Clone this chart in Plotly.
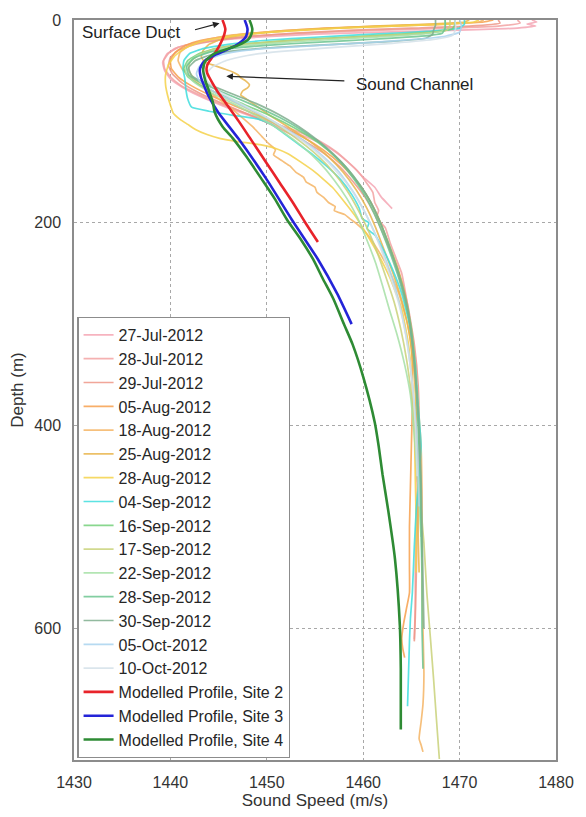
import plotly.graph_objects as go

# Measured CTD sound-speed profiles: depth (m) and sound speed (m/s)
depth_27jul = [0, 2, 4, 6, 8, 10, 12, 14, 17, 20, 24, 28, 34, 42, 50, 58, 66, 75, 85, 95, 105, 115, 125, 135, 145, 155, 165, 175, 182, 186]
speed_27jul = [1477.5, 1478.0, 1477.0, 1477.9, 1476.0, 1470.0, 1462.0, 1455.0, 1449.0, 1445.0, 1442.0, 1440.5, 1439.6, 1439.2, 1439.4, 1440.0, 1441.2, 1443.0, 1445.5, 1448.4, 1451.2, 1454.0, 1456.3, 1457.8, 1459.0, 1460.0, 1461.2, 1461.9, 1462.6, 1463.0]

depth_28jul = [0, 3, 6, 8, 10, 12, 15, 18, 22, 27, 33, 40, 48, 56, 64, 72, 82, 92, 100, 110, 120, 130, 140, 150, 160, 170, 180, 188, 195, 205, 220, 235, 250, 270, 300, 340, 380, 420, 460, 500, 540, 580, 611]
speed_28jul = [1476.0, 1476.3, 1474.0, 1469.0, 1462.0, 1456.0, 1450.0, 1446.0, 1442.8, 1440.8, 1439.8, 1439.3, 1439.4, 1440.0, 1441.0, 1442.6, 1445.0, 1447.8, 1450.2, 1453.2, 1455.6, 1457.2, 1458.4, 1459.5, 1460.3, 1461.0, 1461.2, 1461.6, 1461.4, 1462.3, 1462.8, 1463.4, 1464.0, 1464.4, 1464.9, 1465.4, 1465.6, 1465.4, 1465.6, 1465.5, 1465.4, 1465.4, 1465.3]

depth_29jul = [0, 3, 6, 8, 10, 13, 16, 20, 25, 30, 37, 45, 53, 62, 72, 84, 96, 108, 120, 132, 145, 160, 175, 190, 205, 225, 250, 280, 320, 360, 400, 450, 500, 550, 590, 613]
speed_29jul = [1474.0, 1474.2, 1471.0, 1465.0, 1459.0, 1453.0, 1448.5, 1445.0, 1442.2, 1440.8, 1440.0, 1439.8, 1440.2, 1441.2, 1443.0, 1445.8, 1448.8, 1451.5, 1454.0, 1456.0, 1457.6, 1459.0, 1460.2, 1461.1, 1461.8, 1462.7, 1463.7, 1464.6, 1465.3, 1465.7, 1465.8, 1465.7, 1465.6, 1465.5, 1465.4, 1465.3]

depth_05aug = [0, 2, 4, 6, 8, 11, 14, 17, 20, 25, 32, 40, 48, 56, 65, 75, 86, 98, 110, 122, 135, 150, 165, 180, 200, 220, 245, 270, 300, 340, 380, 420, 460, 500, 540, 565, 580, 595, 610, 620, 629]
speed_05aug = [1473.5, 1472.5, 1468.0, 1462.0, 1456.0, 1451.0, 1447.5, 1445.0, 1443.2, 1441.6, 1440.5, 1440.0, 1440.1, 1440.8, 1442.2, 1444.3, 1447.0, 1450.0, 1452.6, 1454.9, 1456.8, 1458.5, 1459.8, 1460.8, 1461.8, 1462.6, 1463.6, 1464.3, 1464.8, 1465.1, 1465.1, 1465.0, 1464.9, 1464.8, 1464.8, 1464.8, 1464.5, 1464.2, 1464.0, 1464.1, 1464.3]

depth_18aug = [0, 2, 4, 6, 8, 10, 13, 16, 20, 25, 32, 40, 48, 56, 65, 75, 85, 95, 105, 115, 122, 128, 133, 139, 144, 150, 155, 160, 165, 170, 175, 180, 184, 188, 192, 196, 200, 210, 225, 245, 270, 300, 340, 380, 420, 470, 520, 560, 600, 645, 675, 693, 709, 715, 722]
speed_18aug = [1472.5, 1472.0, 1469.0, 1463.0, 1457.0, 1452.5, 1448.5, 1445.5, 1443.5, 1442.0, 1441.0, 1440.8, 1441.2, 1442.0, 1443.2, 1444.6, 1446.0, 1447.3, 1448.5, 1449.5, 1450.2, 1450.9, 1450.7, 1451.6, 1452.4, 1453.0, 1453.8, 1454.1, 1455.0, 1455.2, 1455.9, 1456.4, 1457.1, 1457.0, 1458.1, 1458.6, 1459.2, 1460.3, 1461.4, 1462.6, 1463.7, 1464.6, 1465.3, 1465.7, 1466.0, 1466.1, 1466.1, 1466.1, 1466.2, 1466.3, 1466.2, 1466.0, 1465.8, 1466.0, 1466.2]

depth_25aug = [0, 2, 4, 6, 9, 12, 15, 19, 24, 30, 36, 41, 45, 48, 51, 54, 57, 60, 64, 67, 70, 74, 78, 84, 94, 106, 120, 135, 150, 168, 186, 205, 225, 250, 280, 310, 350, 390, 430, 470, 510, 545]
speed_25aug = [1471.0, 1470.5, 1467.0, 1461.0, 1455.0, 1450.5, 1447.5, 1445.3, 1444.0, 1443.4, 1443.2, 1443.5, 1444.6, 1445.5, 1446.4, 1447.0, 1447.3, 1447.8, 1448.2, 1448.0, 1447.5, 1447.3, 1447.9, 1448.8, 1450.3, 1452.3, 1454.5, 1456.4, 1457.9, 1459.3, 1460.4, 1461.3, 1462.1, 1463.1, 1464.1, 1464.8, 1465.3, 1465.5, 1465.6, 1465.7, 1465.7, 1465.8]

depth_28aug = [0, 2, 4, 6, 8, 11, 14, 18, 22, 28, 35, 44, 54, 64, 74, 84, 92, 98, 103, 108, 113, 117, 120, 123, 127, 132, 140, 150, 165, 180, 195, 212, 232, 255, 285, 320, 360, 400, 450, 500, 545]
speed_28aug = [1472.0, 1471.5, 1468.5, 1463.0, 1457.5, 1452.0, 1448.0, 1445.0, 1443.0, 1441.5, 1440.5, 1439.8, 1439.5, 1439.5, 1439.7, 1440.0, 1440.3, 1441.0, 1441.8, 1442.6, 1443.8, 1445.2, 1447.0, 1449.3, 1451.0, 1452.2, 1453.5, 1455.0, 1456.8, 1458.1, 1459.3, 1460.4, 1461.6, 1462.8, 1464.0, 1464.7, 1465.1, 1465.3, 1465.4, 1465.5, 1465.5]

depth_04sep = [0, 4, 8, 11, 14, 17, 20, 24, 28, 33, 40, 48, 58, 68, 78, 86, 90, 94, 98, 103, 112, 122, 133, 145, 158, 172, 186, 196, 200, 206, 212, 225, 245, 270, 300, 340, 380, 420, 450, 484, 520, 565, 590, 613, 645, 677]
speed_04sep = [1470.5, 1470.5, 1470.0, 1467.0, 1461.0, 1455.0, 1450.0, 1446.0, 1443.5, 1442.0, 1441.4, 1441.3, 1441.5, 1441.6, 1441.8, 1442.2, 1444.0, 1446.5, 1449.2, 1450.5, 1451.8, 1453.2, 1454.8, 1456.3, 1457.7, 1458.8, 1459.6, 1459.9, 1460.6, 1460.4, 1461.2, 1462.0, 1463.0, 1464.0, 1464.8, 1465.4, 1465.7, 1466.0, 1465.8, 1465.5, 1465.3, 1465.1, 1464.9, 1464.8, 1464.7, 1464.6]

depth_16sep = [0, 5, 9, 12, 15, 18, 21, 24, 28, 33, 40, 48, 56, 64, 72, 82, 92, 103, 115, 128, 142, 157, 172, 188, 205, 225, 250, 275, 305, 345, 390, 440, 490, 530]
speed_16sep = [1469.5, 1469.5, 1469.2, 1467.0, 1462.0, 1456.0, 1451.0, 1447.5, 1444.8, 1443.0, 1441.8, 1441.4, 1441.8, 1443.0, 1444.8, 1447.3, 1449.8, 1452.2, 1454.4, 1456.3, 1457.9, 1459.2, 1460.3, 1461.2, 1462.0, 1462.8, 1463.7, 1464.4, 1465.0, 1465.4, 1465.7, 1465.9, 1466.0, 1466.1]

depth_17sep = [0, 5, 10, 13, 16, 19, 22, 25, 29, 34, 42, 50, 58, 68, 80, 92, 105, 120, 135, 150, 168, 186, 205, 228, 252, 278, 305, 335, 370, 410, 460, 516, 565, 613, 650, 690, 729]
speed_17sep = [1469.0, 1469.0, 1468.7, 1466.5, 1461.0, 1455.0, 1450.0, 1446.8, 1444.5, 1443.0, 1442.0, 1441.9, 1442.5, 1444.0, 1446.4, 1448.9, 1451.3, 1453.5, 1455.4, 1456.9, 1458.3, 1459.4, 1460.4, 1461.4, 1462.3, 1463.2, 1463.9, 1464.5, 1465.0, 1465.4, 1465.8, 1466.3, 1466.6, 1467.0, 1467.3, 1467.6, 1467.9]

depth_22sep = [0, 6, 11, 14, 17, 20, 23, 26, 30, 36, 44, 52, 60, 70, 82, 95, 110, 125, 140, 158, 176, 195, 215, 240, 262, 285, 310, 340, 370, 410, 460, 510]
speed_22sep = [1468.5, 1468.5, 1468.2, 1466.0, 1461.0, 1455.5, 1450.5, 1447.0, 1444.5, 1442.6, 1441.7, 1441.6, 1442.3, 1443.9, 1446.4, 1449.0, 1451.6, 1453.7, 1455.4, 1457.0, 1458.3, 1459.4, 1460.3, 1461.3, 1462.0, 1462.7, 1463.5, 1464.3, 1464.9, 1465.3, 1465.7, 1466.0]

depth_28sep = [0, 8, 13, 16, 19, 22, 25, 28, 32, 38, 46, 54, 62, 72, 84, 96, 108, 122, 138, 155, 172, 190, 210, 230, 255, 280, 310, 350, 400, 450, 500, 550, 600, 640]
speed_28sep = [1468.5, 1468.5, 1468.2, 1466.0, 1461.0, 1455.0, 1450.0, 1446.5, 1444.0, 1442.4, 1441.7, 1441.9, 1443.2, 1445.6, 1448.6, 1451.3, 1453.5, 1455.6, 1457.4, 1458.9, 1460.1, 1461.1, 1462.0, 1462.8, 1463.7, 1464.4, 1465.0, 1465.4, 1465.7, 1465.9, 1466.0, 1466.1, 1466.1, 1466.2]

depth_30sep = [0, 5, 10, 14, 18, 21, 24, 27, 30, 34, 40, 47, 55, 63, 72, 82, 93, 105, 118, 132, 147, 163, 180, 198, 218, 240, 265, 290, 320, 360, 400, 450, 500, 550, 600]
speed_30sep = [1467.5, 1467.5, 1467.3, 1467.2, 1466.5, 1463.0, 1457.0, 1451.0, 1447.0, 1444.3, 1442.6, 1441.9, 1442.2, 1443.8, 1446.2, 1448.8, 1451.2, 1453.3, 1455.2, 1456.9, 1458.4, 1459.7, 1460.8, 1461.7, 1462.5, 1463.3, 1464.1, 1464.7, 1465.1, 1465.5, 1465.8, 1466.0, 1466.1, 1466.2, 1466.3]

depth_05oct = [0, 6, 12, 16, 19, 22, 25, 28, 31, 35, 40, 46, 53, 60, 70, 80, 92, 105, 120, 135, 150, 170, 190, 210, 235, 260, 290, 320, 360, 400, 440, 480]
speed_05oct = [1470.0, 1470.2, 1470.0, 1468.5, 1465.5, 1461.0, 1455.5, 1450.0, 1447.0, 1445.0, 1443.8, 1443.0, 1442.7, 1443.0, 1444.4, 1446.5, 1449.1, 1451.6, 1454.0, 1455.9, 1457.5, 1459.0, 1460.2, 1461.2, 1462.3, 1463.2, 1464.0, 1464.6, 1465.1, 1465.5, 1465.7, 1465.8]

depth_10oct = [0, 8, 15, 19, 23, 27, 31, 35, 40, 46, 53, 60, 70, 82, 95, 110, 125, 140, 160, 180, 200, 225, 250, 280, 310, 350, 400, 450]
speed_10oct = [1469.5, 1469.6, 1469.3, 1467.5, 1463.0, 1457.0, 1451.5, 1448.0, 1445.8, 1444.4, 1443.7, 1443.8, 1445.0, 1447.2, 1449.8, 1452.3, 1454.5, 1456.3, 1458.2, 1459.6, 1460.7, 1461.8, 1462.7, 1463.7, 1464.4, 1465.0, 1465.4, 1465.6]

# Modelled profiles
depth_site2 = [0, 5, 9, 14, 19, 25, 30, 35, 40, 44, 48, 52, 56, 62, 70, 80, 100, 120, 140, 160, 180, 200, 219]
speed_site2 = [1445.4, 1445.6, 1445.7, 1445.6, 1445.4, 1445.1, 1444.8, 1444.45, 1444.1, 1443.85, 1443.75, 1443.8, 1444.0, 1444.35, 1444.85, 1445.6, 1447.1, 1448.5, 1449.9, 1451.3, 1452.7, 1454.0, 1455.3]

depth_site3 = [0, 5, 9, 13, 17, 21, 25, 30, 35, 40, 45, 50, 56, 65, 75, 91, 117, 156, 197, 236, 270, 300]
speed_site3 = [1447.7, 1447.9, 1448.0, 1447.95, 1447.8, 1447.4, 1446.8, 1445.7, 1444.5, 1443.6, 1443.2, 1443.05, 1443.15, 1443.5, 1443.95, 1444.95, 1447.05, 1449.9, 1452.6, 1455.3, 1457.3, 1458.8]

depth_site4 = [0, 5, 9, 14, 19, 25, 33, 41, 49, 59, 70, 81, 91, 105, 117, 135, 156, 176, 197, 216, 236, 255, 275, 300, 320, 352, 397, 420, 448, 484, 532, 597, 640, 700]
speed_site4 = [1448.2, 1448.4, 1448.5, 1448.4, 1448.1, 1447.0, 1444.6, 1443.6, 1443.4, 1443.6, 1444.0, 1444.4, 1444.6, 1445.4, 1446.5, 1447.9, 1449.4, 1450.8, 1452.1, 1453.5, 1454.8, 1455.8, 1456.9, 1458.0, 1458.9, 1460.0, 1461.2, 1461.6, 1462.0, 1462.6, 1463.3, 1463.8, 1463.9, 1463.9]

measured_labels = ["27-Jul-2012", "28-Jul-2012", "29-Jul-2012", "05-Aug-2012", "18-Aug-2012",
                   "25-Aug-2012", "28-Aug-2012", "04-Sep-2012", "16-Sep-2012", "17-Sep-2012",
                   "22-Sep-2012", "28-Sep-2012", "30-Sep-2012", "05-Oct-2012", "10-Oct-2012"]
measured_depths = [depth_27jul, depth_28jul, depth_29jul, depth_05aug, depth_18aug, depth_25aug,
                   depth_28aug, depth_04sep, depth_16sep, depth_17sep, depth_22sep, depth_28sep,
                   depth_30sep, depth_05oct, depth_10oct]
measured_speeds = [speed_27jul, speed_28jul, speed_29jul, speed_05aug, speed_18aug, speed_25aug,
                   speed_28aug, speed_04sep, speed_16sep, speed_17sep, speed_22sep, speed_28sep,
                   speed_30sep, speed_05oct, speed_10oct]
measured_colors = ["#f5a6b4", "#f3a3a3", "#ee9787", "#f7a04d", "#f5b565", "#e9b54c", "#f5d24a",
                   "#3fdede", "#74d07a", "#c9d27a", "#a6e0a6", "#6cc591", "#7fae8e", "#a9d3ef", "#d4e1e9"]

model_labels = ["Modelled Profile, Site 2", "Modelled Profile, Site 3", "Modelled Profile, Site 4"]
model_depths = [depth_site2, depth_site3, depth_site4]
model_speeds = [speed_site2, speed_site3, speed_site4]
model_colors = ["#e8232a", "#2424d8", "#2e8b34"]

FONT = "Liberation Sans, Arial, sans-serif"

fig = go.Figure()

for lab, d, s, c in zip(measured_labels, measured_depths, measured_speeds, measured_colors):
    fig.add_trace(go.Scatter(x=s, y=d, mode="lines", name=lab, opacity=0.85,
                             line=dict(color=c, width=1.7, shape="spline", smoothing=0.4)))

for lab, d, s, c in zip(model_labels, model_depths, model_speeds, model_colors):
    fig.add_trace(go.Scatter(x=s, y=d, mode="lines", name=lab,
                             line=dict(color=c, width=2.6, shape="spline", smoothing=0.6)))

axis_common = dict(
    showline=True, linecolor="#8c8c8c", linewidth=1.5, mirror=True,
    showgrid=True, gridcolor="#a8a8a8", gridwidth=1.2, griddash="dot",
    zeroline=False, ticks="", tickfont=dict(size=16, color="#333333", family=FONT),
)

fig.update_xaxes(range=[1430, 1480], tickvals=[1430, 1440, 1450, 1460, 1470, 1480],
                 title=dict(text="Sound Speed (m/s)", font=dict(size=17, color="#333333", family=FONT), standoff=2),
                 ticklabelstandoff=7, **axis_common)
fig.update_yaxes(range=[730, 0], tickvals=[0, 200, 400, 600],
                 title=dict(text="Depth (m)", font=dict(size=17, color="#333333", family=FONT), standoff=6),
                 ticklabelstandoff=8, **axis_common)

annotations = [
    dict(x=1445.1, y=3.2, ax=1442.4, ay=10.0, xref="x", yref="y", axref="x", ayref="y",
         text="", showarrow=True, arrowhead=2, arrowsize=1.1, arrowwidth=1.2, arrowcolor="#222222"),
    dict(x=1436.0, y=12.0, xref="x", yref="y", text="Surface Duct", showarrow=False,
         font=dict(size=17, color="#222222", family=FONT)),
    dict(x=1445.8, y=55.5, ax=1458.2, ay=60.2, xref="x", yref="y", axref="x", ayref="y",
         text="", showarrow=True, arrowhead=2, arrowsize=1.1, arrowwidth=1.2, arrowcolor="#222222"),
    dict(x=1459.0, y=64.0, xref="x", yref="y", text="Sound Channel", showarrow=False,
         xanchor="left", font=dict(size=17, color="#222222", family=FONT)),
]

fig.update_layout(
    width=586, height=817,
    margin=dict(l=74, r=22, t=16, b=47),
    paper_bgcolor="white", plot_bgcolor="white",
    font=dict(family=FONT, color="#333333"),
    annotations=annotations,
    legend=dict(x=0.007, y=0.003, xanchor="left", yanchor="bottom",
                bgcolor="white", bordercolor="#8c8c8c", borderwidth=1.2,
                font=dict(size=16, color="#262626", family=FONT),
                tracegroupgap=0),
    showlegend=True,
)

fig.write_html("out.html")
